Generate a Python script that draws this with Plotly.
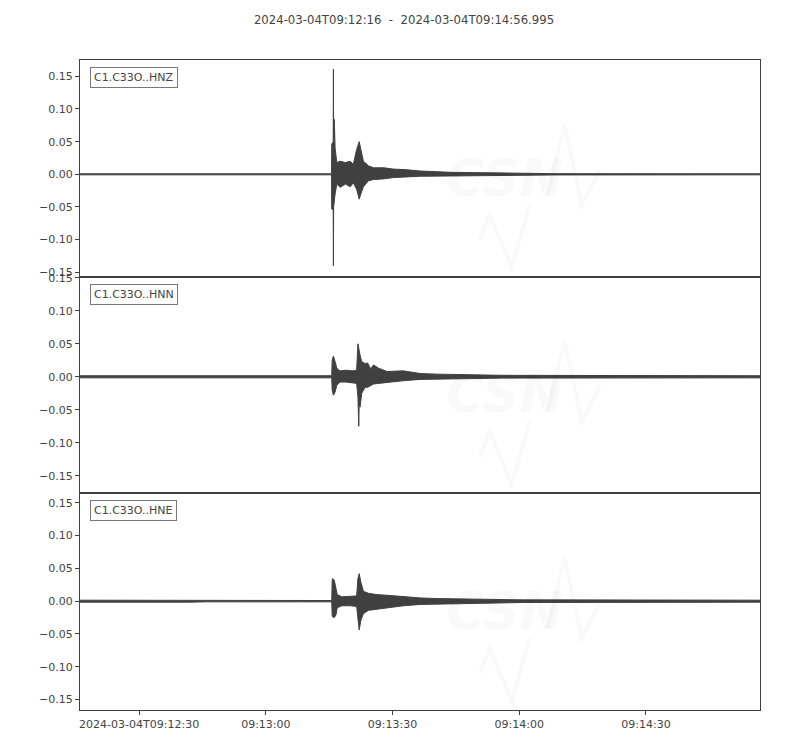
import pandas as pd
import plotly.graph_objects as go
from plotly.subplots import make_subplots

START = "2024-03-04 09:12:16"
END = "2024-03-04 09:14:56.995"
title_text = "2024-03-04T09:12:16  -  2024-03-04T09:14:56.995"
channels = ["C1.C33O..HNZ", "C1.C33O..HNN", "C1.C33O..HNE"]

# y-axis ranges of each panel
y_ranges = [[-0.1567, 0.175], [-0.1767, 0.1518], [-0.166, 0.1645]]
y_ticks = [-0.15, -0.10, -0.05, 0.0, 0.05, 0.10, 0.15]

x_tick_times = ["2024-03-04 09:12:30", "2024-03-04 09:13:00", "2024-03-04 09:13:30",
                "2024-03-04 09:14:00", "2024-03-04 09:14:30"]
x_tick_labels = ["2024-03-04T09:12:30", "09:13:00", "09:13:30", "09:14:00", "09:14:30"]

# Envelopes of each trace: seconds after START, upper and lower amplitude
hnz_t = [0, 59.55, 59.6, 59.95, 60.0, 60.05, 60.2, 60.4, 60.8, 61.6, 62.8, 64.0, 64.7, 65.5,
         66.1, 66.5, 67.1, 68.3, 69.5, 71.9, 74.2, 77.4, 80.6, 84.5, 88.0, 95.0, 102.0, 112.0, 161.0]
hnz_up = [0.0008, 0.0008, 0.046, 0.050, 0.161, 0.050, 0.084, 0.040, 0.018, 0.020, 0.018, 0.020,
          0.015, 0.038, 0.050, 0.038, 0.020, 0.013, 0.010, 0.010, 0.008, 0.007, 0.005, 0.004,
          0.003, 0.0025, 0.0018, 0.001, 0.0008]
hnz_lo = [-0.0008, -0.0008, -0.053, -0.055, -0.140, -0.050, -0.045, -0.030, -0.015, -0.020,
          -0.015, -0.019, -0.013, -0.023, -0.038, -0.030, -0.019, -0.010, -0.008, -0.007,
          -0.005, -0.004, -0.003, -0.003, -0.0025, -0.002, -0.0015, -0.001, -0.0008]

hnn_t = [0, 59.6, 59.7, 60.0, 60.4, 60.8, 61.5, 63.0, 64.5, 65.5, 65.8, 66.0, 66.1, 66.3, 66.7,
         67.5, 68.1, 68.8, 69.5, 70.7, 72.7, 76.5, 80.5, 84.5, 90.0, 100.0, 161.0]
hnn_up = [0.0016, 0.0016, 0.025, 0.0315, 0.023, 0.013, 0.009, 0.010, 0.009, 0.010, 0.050, 0.045,
          0.040, 0.033, 0.023, 0.020, 0.021, 0.012, 0.018, 0.013, 0.008, 0.009, 0.005, 0.004,
          0.003, 0.0022, 0.0016]
hnn_lo = [-0.0016, -0.0016, -0.020, -0.028, -0.023, -0.013, -0.008, -0.008, -0.009, -0.010,
          -0.030, -0.075, -0.040, -0.046, -0.025, -0.016, -0.016, -0.013, -0.011, -0.010,
          -0.008, -0.006, -0.004, -0.0035, -0.0028, -0.002, -0.0016]

hne_t = [0, 26.0, 30.0, 59.6, 59.7, 59.8, 60.2, 60.6, 60.9, 62.0, 64.0, 65.5, 65.8, 66.1, 66.5,
         67.1, 68.3, 70.3, 72.7, 76.6, 80.5, 84.5, 92.0, 105.0, 161.0]
hne_up = [0.0015, 0.0015, 0.001, 0.001, 0.030, 0.0345, 0.032, 0.022, 0.010, 0.0066, 0.0075,
          0.008, 0.0345, 0.042, 0.029, 0.015, 0.012, 0.010, 0.009, 0.0066, 0.005, 0.004,
          0.003, 0.002, 0.0015]
hne_lo = [-0.0015, -0.0015, -0.001, -0.001, -0.022, -0.024, -0.025, -0.021, -0.010, -0.007,
          -0.007, -0.008, -0.020, -0.044, -0.029, -0.019, -0.014, -0.012, -0.010, -0.007,
          -0.005, -0.004, -0.003, -0.002, -0.0015]

traces = [(hnz_t, hnz_up, hnz_lo), (hnn_t, hnn_up, hnn_lo), (hne_t, hne_up, hne_lo)]

INK = "#404040"
TXT = "#444444"
FONT = "DejaVu Sans"

fig = make_subplots(rows=3, cols=1, shared_xaxes=True, vertical_spacing=0)

t0 = pd.Timestamp(START)
for i, (t, up, lo) in enumerate(traces, start=1):
    times = [t0 + pd.to_timedelta(v, unit="s") for v in t]
    xs = times + times[::-1]
    ys = list(up) + list(lo)[::-1]
    fig.add_trace(go.Scatter(x=xs, y=ys, mode="lines", fill="toself",
                             fillcolor=INK, line=dict(color=INK, width=1),
                             hoverinfo="skip", showlegend=False), row=i, col=1)

# faint CSN watermark in every panel (panel-relative pixel offsets)
PW, PH = 680.0, 216.6
logo_paths = [[(399.7, 179.7), (409.7, 154.7), (431.7, 207.7), (449.7, 144.7)],
              [(467.7, 134.7), (484.7, 64.7), (501.7, 144.7), (519.7, 109.7)]]
WM = "rgba(0,0,0,0.025)"
for i in range(1, 4):
    xr = "x domain" if i == 1 else f"x{i} domain"
    yr = "y domain" if i == 1 else f"y{i} domain"
    for pts in logo_paths:
        path = "M " + " L ".join(f"{px / PW:.4f},{1 - py / PH:.4f}" for px, py in pts)
        fig.add_shape(type="path", path=path, xref=xr, yref=yr,
                      line=dict(color=WM, width=4), layer="below")
    fig.add_annotation(x=424.7 / PW, y=1 - 117.7 / PH, xref=xr, yref=yr, text="<b><i>CSN</i></b>",
                       showarrow=False, font=dict(family=FONT, size=52, color=WM))
    fig.add_annotation(x=451.7 / PW, y=1 - 161.7 / PH, xref=xr, yref=yr, xanchor="left",
                       text="<i>CENTRO SISMOLÓGICO NACIONAL</i>", showarrow=False,
                       font=dict(family="DejaVu Sans Condensed, " + FONT, size=13, color=WM))
    fig.add_annotation(x=447.7 / PW, y=1 - 182.7 / PH, xref=xr, yref=yr, xanchor="left",
                       text="<i>UNIVERSIDAD DE CHILE</i>", showarrow=False,
                       font=dict(family="DejaVu Sans Condensed, " + FONT, size=13, color=WM))
    # channel label box
    fig.add_annotation(x=10 / PW, y=1 - 7 / PH, xref=xr, yref=yr, xanchor="left", yanchor="top",
                       text=channels[i - 1], showarrow=False,
                       font=dict(family=FONT, size=11, color=TXT),
                       bgcolor="white", bordercolor="#777777", borderwidth=1, borderpad=3)

for i in range(1, 4):
    fig.update_yaxes(range=y_ranges[i - 1], tickvals=y_ticks, tickformat=".2f",
                     showgrid=False, zeroline=False, showline=True, mirror=True,
                     linecolor=INK, linewidth=1, ticks="outside", ticklen=4,
                     tickcolor=INK, tickfont=dict(family=FONT, size=11, color=TXT),
                     row=i, col=1)
    fig.update_xaxes(range=[START, END], showgrid=False, zeroline=False, showline=True,
                     mirror=True, linecolor=INK, linewidth=1,
                     tickvals=x_tick_times, ticktext=x_tick_labels,
                     ticks="outside" if i == 3 else "", ticklen=4, tickcolor=INK,
                     showticklabels=(i == 3),
                     tickfont=dict(family=FONT, size=11, color=TXT), row=i, col=1)

# page body has an 8 px margin: shrink the figure so the plot area lands where the reference has it
fig.update_layout(
    width=792, height=742,
    margin=dict(l=72, r=40, t=52, b=40),
    paper_bgcolor="white", plot_bgcolor="white",
    title=dict(text=title_text, x=0.5, xanchor="center", y=1 - 12 / 742, yanchor="middle",
               font=dict(family=FONT, size=11.7, color=TXT)),
    showlegend=False,
)

fig.write_html("out.html")
